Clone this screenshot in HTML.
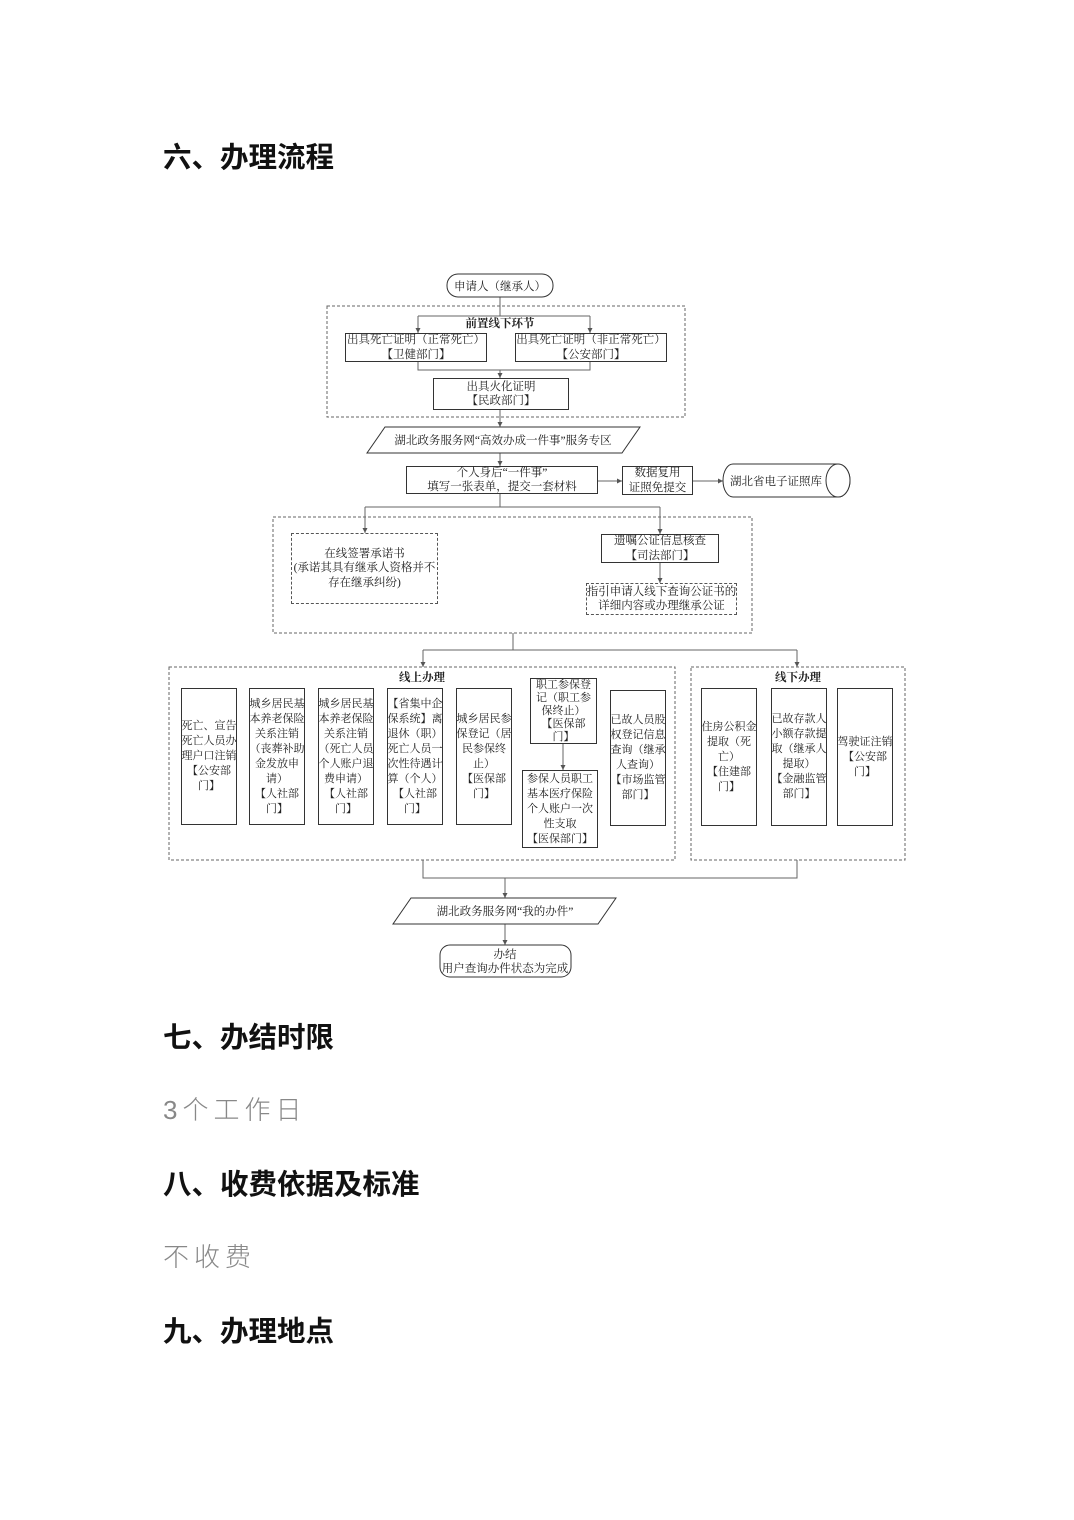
<!DOCTYPE html>
<html><head><meta charset="utf-8"><style>
body{margin:0;background:#fff;}
#p{position:relative;width:1074px;height:1520px;overflow:hidden;background:#fff;font-family:"Liberation Serif","Noto Serif CJK SC",serif;color:#222;}
.h{position:absolute;left:163px;font-family:"Liberation Sans","Noto Sans CJK SC",sans-serif;font-weight:bold;font-size:28.5px;color:#111;line-height:36px;}
.t{position:absolute;left:163px;font-family:"Liberation Sans","Noto Sans CJK SC",sans-serif;font-size:26px;color:#888;letter-spacing:5px;line-height:34px;font-weight:300;}
.b{position:absolute;box-sizing:border-box;border:1px solid #333;display:flex;align-items:center;justify-content:center;text-align:center;font-size:11.5px;line-height:14.5px;white-space:nowrap;background:#fff;}
.c{font-size:11px;line-height:15px;}
.d{border:1px dashed #555;}
svg{position:absolute;left:0;top:0;}
</style></head><body><div id="p">
<svg width="1074" height="1520">
<defs><marker id="a" markerWidth="6" markerHeight="6" refX="5" refY="3" orient="auto"><path d="M0,0.5 L5,3 L0,5.5z" fill="#555"/></marker></defs>
<g fill="none" stroke="#666" stroke-width="1">
<rect x="327" y="306" width="358" height="111" stroke-dasharray="3,2"/>
<rect x="273" y="517" width="479" height="116" stroke-dasharray="3,2"/>
<rect x="169" y="667" width="506" height="193" stroke-dasharray="3,2"/>
<rect x="691" y="667" width="214" height="193" stroke-dasharray="3,2"/>
<path d="M500 297 V316 M418 316 H590"/>
<path d="M418 316 V333" marker-end="url(#a)"/><path d="M590 316 V333" marker-end="url(#a)"/>
<path d="M418 362 V370 H590 V362"/>
<path d="M500 370 V378" marker-end="url(#a)"/>
<path d="M500 410 V427" marker-end="url(#a)"/>
<path d="M500 453 V466" marker-end="url(#a)"/>
<path d="M598 481 H622" marker-end="url(#a)"/>
<path d="M693 481 H723" marker-end="url(#a)"/>
<path d="M500 494 V507 M365 507 H660"/>
<path d="M365 507 V533" marker-end="url(#a)"/><path d="M660 507 V534" marker-end="url(#a)"/>
<path d="M660 563 V583" marker-end="url(#a)"/>
<path d="M513 633 V650 M423 650 H797"/>
<path d="M423 650 V667" marker-end="url(#a)"/><path d="M797 650 V667" marker-end="url(#a)"/>
<path d="M563 744 V770" marker-end="url(#a)"/>
<path d="M423 860 V878 H797 V860"/>
<path d="M505 878 V898" marker-end="url(#a)"/>
<path d="M505 924 V945" marker-end="url(#a)"/>
</g>
<g fill="#fff" stroke="#333">
<rect x="447" y="274" width="106" height="23" rx="11"/>
<path d="M385 427 H640 L622 453 H367 Z"/>
<path d="M411 898 H616 L598 924 H393 Z"/>
<rect x="440" y="945" width="131" height="32" rx="10"/>
<path d="M733 464 H838 A12 16.5 0 0 1 838 497 H733 A10 16.5 0 0 1 733 464 Z"/>
<ellipse cx="838" cy="480.5" rx="12" ry="16.5"/>
</g>
<g font-size="11.5" fill="#222" text-anchor="middle">
<text x="500" y="290">申请人（继承人）</text>
<text x="503" y="444">湖北政务服务网“高效办成一件事”服务专区</text>
<text x="505" y="915">湖北政务服务网“我的办件”</text>
<text x="505" y="958">办结</text>
<text x="505" y="972">用户查询办件状态为完成</text>
<text x="776" y="485">湖北省电子证照库</text>
<text x="500" y="327" font-weight="bold">前置线下环节</text>
<text x="422" y="681" font-weight="bold">线上办理</text>
<text x="798" y="681" font-weight="bold">线下办理</text>
</g>
</svg>
<div class="b" style="left:345px;top:333px;width:142px;height:29px">出具死亡证明（正常死亡）<br>【卫健部门】</div>
<div class="b" style="left:515px;top:333px;width:152px;height:29px">出具死亡证明（非正常死亡）<br>【公安部门】</div>
<div class="b" style="left:433px;top:378px;width:136px;height:32px">出具火化证明<br>【民政部门】</div>
<div class="b" style="left:406px;top:466px;width:192px;height:28px">个人身后“一件事”<br>填写一张表单，提交一套材料</div>
<div class="b" style="left:622px;top:466px;width:71px;height:29px">数据复用<br>证照免提交</div>
<div class="b d" style="left:291px;top:533px;width:147px;height:71px">在线签署承诺书<br>(承诺其具有继承人资格并不<br>存在继承纠纷)</div>
<div class="b" style="left:601px;top:534px;width:118px;height:29px">遗嘱公证信息核查<br>【司法部门】</div>
<div class="b d" style="left:586px;top:583px;width:151px;height:32px">指引申请人线下查询公证书的<br>详细内容或办理继承公证</div>
<div class="b c" style="left:181px;top:688px;width:56px;height:137px">死亡、宣告<br>死亡人员办<br>理户口注销<br>【公安部<br>门】</div>
<div class="b c" style="left:249px;top:688px;width:56px;height:137px">城乡居民基<br>本养老保险<br>关系注销<br>（丧葬补助<br>金发放申<br>请）<br>【人社部<br>门】</div>
<div class="b c" style="left:318px;top:688px;width:56px;height:137px">城乡居民基<br>本养老保险<br>关系注销<br>（死亡人员<br>个人账户退<br>费申请）<br>【人社部<br>门】</div>
<div class="b c" style="left:387px;top:688px;width:56px;height:137px">【省集中企<br>保系统】离<br>退休（职）<br>死亡人员一<br>次性待遇计<br>算（个人）<br>【人社部<br>门】</div>
<div class="b c" style="left:456px;top:688px;width:56px;height:137px">城乡居民参<br>保登记（居<br>民参保终<br>止）<br>【医保部<br>门】</div>
<div class="b c" style="left:530px;top:678px;width:67px;height:66px;line-height:13px">职工参保登<br>记（职工参<br>保终止）<br>【医保部<br>门】</div>
<div class="b c" style="left:522px;top:770px;width:76px;height:78px">参保人员职工<br>基本医疗保险<br>个人账户一次<br>性支取<br>【医保部门】</div>
<div class="b c" style="left:610px;top:690px;width:56px;height:136px">已故人员股<br>权登记信息<br>查询（继承<br>人查询）<br>【市场监管<br>部门】</div>
<div class="b c" style="left:701px;top:688px;width:56px;height:138px">住房公积金<br>提取（死<br>亡）<br>【住建部<br>门】</div>
<div class="b c" style="left:771px;top:688px;width:56px;height:138px">已故存款人<br>小额存款提<br>取（继承人<br>提取）<br>【金融监管<br>部门】</div>
<div class="b c" style="left:837px;top:688px;width:56px;height:138px">驾驶证注销<br>【公安部<br>门】</div>
<div class="h" style="top:140px">六、办理流程</div>
<div class="h" style="top:1020px">七、办结时限</div>
<div class="t" style="top:1093px">3个工作日</div>
<div class="h" style="top:1167px">八、收费依据及标准</div>
<div class="t" style="top:1240px">不收费</div>
<div class="h" style="top:1314px">九、办理地点</div>
</div></body></html>
